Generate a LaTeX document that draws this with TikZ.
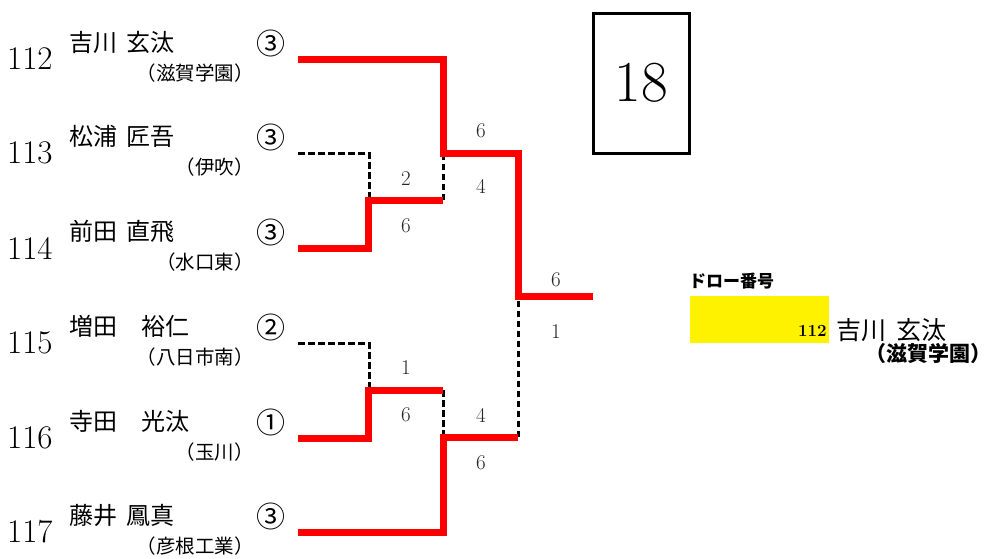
\documentclass[tikz,border=0pt]{standalone}
\usepackage{fontspec}
\newfontfamily\jp[WordSpace=3.05]{Noto Sans CJK JP}
\newfontfamily\jpw[WordSpace=1.8]{Noto Sans CJK JP}
\begin{document}
\begin{tikzpicture}[x=1pt,y=-1pt,
  redline/.style={draw=red,line width=7pt,line join=miter},
  dashline/.style={draw=black,line width=3pt,dash pattern=on 6.5pt off 3.5pt},
  numtxt/.style={inner sep=0pt,anchor=west,font=\fontsize{33}{38}\selectfont},
  nametxt/.style={inner sep=0pt,anchor=west,font=\jp\fontsize{24}{28}\selectfont},
  circtxt/.style={inner sep=0pt,anchor=east,font=\jp\fontsize{29}{32}\selectfont},
  schooltxt/.style={inner sep=0pt,anchor=east,font=\jp\fontsize{19.5}{23}\selectfont},
  score/.style={inner sep=0pt,text=black!85,font=\fontsize{21}{25}\selectfont}]
\useasboundingbox (0,0) rectangle (990,558);
\fill[white] (0,0) rectangle (990,558);
\foreach \y/\num/\nm/\c/\sc in {
  59/112/吉川 玄汰/③/（滋賀学園）,
  153/113/松浦 匠吾/③/（伊吹）,
  248/114/前田 直飛/③/（水口東）,
  343/115/増田　裕仁/②/（八日市南）,
  438/116/寺田　光汰/①/（玉川）,
  532/117/藤井 鳳真/③/（彦根工業）}{
  \node[numtxt] (num\num) at (7,\y) {\num};
  \node[nametxt] (name\num) at (69,\y-17) {\nm};
  \node[circtxt] (circ\num) at (286,\y-16) {\c};
  \node[schooltxt] (sch\num) at (254,\y+14) {\sc};
  \coordinate (p\num) at (298,\y);
}
% bracket coordinates
\coordinate (a1) at (369,153);
\coordinate (a2) at (369,200);
\coordinate (a3) at (368,248);
\coordinate (a4) at (443,200);
\coordinate (b1) at (443,59);
\coordinate (b2) at (443,153);
\coordinate (c1) at (518,153);
\coordinate (c2) at (518,296);
\coordinate (fin) at (593,296);
\coordinate (d1) at (369,343);
\coordinate (d2) at (369,390);
\coordinate (d3) at (368,438);
\coordinate (d4) at (443,390);
\coordinate (e1) at (443,532);
\coordinate (e2) at (443,437);
\coordinate (f1) at (518,437);
% dashed losers
\draw[dashline] (p113) -- (a1) -- (a2);
\draw[dashline] (a4) -- (b2);
\draw[dashline] (p115) -- (d1) -- (d2);
\draw[dashline] (d4) -- (e2);
\draw[dashline] (f1) -- (c2);
% red winners
\draw[redline] (p112) -- (b1) -- (b2) -- (c1) -- (c2) -- (fin);
\draw[redline] (p114) -- (a3) |- (a4);
\draw[redline] (p116) -- (d3) |- (d4);
\draw[redline] (p117) -- (e1) -- (e2) -- (f1);
% scores
\node[score] (s1) at (406,179) {2};
\node[score] (s2) at (406,226) {6};
\node[score] (s3) at (481,131) {6};
\node[score] (s4) at (481,186) {4};
\node[score] (s5) at (406,368) {1};
\node[score] (s6) at (406,415) {6};
\node[score] (s7) at (481,415) {4};
\node[score] (s8) at (481,463) {6};
\node[score] (s9) at (556,280) {6};
\node[score] (s10) at (556,332) {1};
% match number box
\node[draw,line width=3pt,minimum width=96pt,minimum height=140pt,inner sep=0pt,
  font=\fontsize{58}{64}\selectfont] (box) at (641,83) {18};
% winner
\node[fill=yellow,minimum width=139pt,minimum height=47pt,inner sep=0pt] (ybox) at (759.5,319.5) {};
\node[inner sep=0pt,anchor=west,font=\jp\bfseries\fontsize{17}{20}\selectfont] (drawlbl) at (689,281) {ドロー番号};
\node[inner sep=0pt,anchor=east,font=\bfseries\fontsize{17}{20}\selectfont] (wnum) at (827,331) {112};
\node[inner sep=0pt,anchor=west,font=\jpw\fontsize{25}{28}\selectfont] (wname) at (836,330) {吉川 玄汰};
\node[inner sep=0pt,anchor=east,font=\jp\bfseries\fontsize{21}{24}\selectfont] (wsch) at (992,354) {（滋賀学園）};
\end{tikzpicture}
\end{document}
